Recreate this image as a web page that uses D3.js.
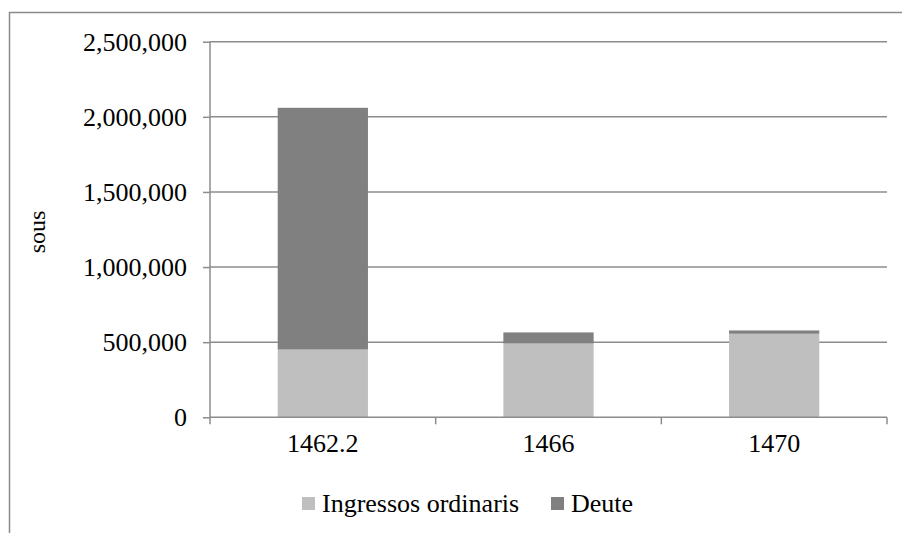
<!DOCTYPE html>
<html><head><meta charset="utf-8">
<script src="https://cdn.jsdelivr.net/npm/d3@7"></script>
<style>body{margin:0;background:#fff}svg{display:block}</style>
</head><body>
<script>
const categories = ["1462.2", "1466", "1470"];
const ingressos = [451000, 491000, 556000];
const deute = [1609000, 74000, 22000];
const seriesNames = ["Ingressos ordinaris", "Deute"];
const seriesColors = ["#bfbfbf", "#808080"];
const yTicks = [0, 500000, 1000000, 1500000, 2000000, 2500000];

(function () {
const W = 902, H = 533;
const font = "'Liberation Serif', 'Times New Roman', serif";
const svg = d3.select("body").append("svg").attr("width", W).attr("height", H)
  .style("font-family", font);

svg.append("rect").attr("x", 9.5).attr("y", 12.5).attr("width", 920).attr("height", 560)
  .attr("fill", "none").attr("stroke", "#8a8a8a").attr("stroke-width", 1.5);

const pLeft = 210, pRight = 887, pTop = 41.7, pBottom = 417.3;
const x = d3.scaleBand().domain(categories).range([pLeft, pRight]).paddingInner(0.6).paddingOuter(0.3);
const y = d3.scaleLinear().domain([0, 2500000]).range([pBottom, pTop]);

// gridlines
svg.append("g").selectAll("line").data(yTicks.slice(1)).join("line")
  .attr("x1", pLeft).attr("x2", pRight).attr("y1", d => y(d)).attr("y2", d => y(d))
  .attr("stroke", "#8c8c8c").attr("stroke-width", 1.5);

// bars
const data = categories.map((c, i) => ({cat: c, Ingressos: ingressos[i], Deute: deute[i]}));
const stack = d3.stack().keys(["Ingressos", "Deute"])(data);
svg.append("g").selectAll("g").data(stack).join("g")
  .attr("fill", (d, i) => seriesColors[i])
  .selectAll("rect").data(d => d).join("rect")
  .attr("x", d => x(d.data.cat)).attr("width", x.bandwidth())
  .attr("y", d => y(d[1])).attr("height", d => y(d[0]) - y(d[1]));

// y axis
const yAxis = svg.append("g").attr("transform", `translate(${pLeft},0)`)
  .call(d3.axisLeft(y).tickValues(yTicks).tickSize(7).tickPadding(16).tickFormat(d3.format(",")));
yAxis.select(".domain").attr("stroke", "#8c8c8c").attr("stroke-width", 1.5).attr("d", `M0,${pTop}V${pBottom}`);
yAxis.selectAll(".tick line").attr("stroke", "#8c8c8c").attr("stroke-width", 1.5);
yAxis.selectAll("text").attr("font-family", font).attr("font-size", 26).attr("fill", "#000");

// x axis
const xAxis = svg.append("g").attr("transform", `translate(0,${pBottom})`)
  .call(d3.axisBottom(x).tickSize(0).tickPadding(16));
xAxis.select(".domain").attr("stroke", "#8c8c8c").attr("stroke-width", 1.5).attr("d", `M${pLeft},0H${pRight}`);
xAxis.selectAll("text").attr("font-family", font).attr("font-size", 26).attr("fill", "#000");
const bounds = [pLeft].concat(categories.map(c => x(c) + x.bandwidth() / 2 + x.step() / 2));
xAxis.append("g").selectAll("line").data(bounds).join("line")
  .attr("x1", d => d).attr("x2", d => d).attr("y1", 0).attr("y2", 7)
  .attr("stroke", "#8c8c8c").attr("stroke-width", 1.5);

// y label
svg.append("text").attr("transform", "translate(45,232) rotate(-90)")
  .attr("text-anchor", "middle").attr("font-family", font).attr("font-size", 24).text("sous");

// legend
const leg = svg.append("g").attr("font-family", font);
const legX = [302, 551];
seriesNames.forEach((n, i) => {
  leg.append("rect").attr("x", legX[i]).attr("y", 497).attr("width", 13).attr("height", 13).attr("fill", seriesColors[i]);
  leg.append("text").attr("x", legX[i] + 20).attr("y", 512).attr("font-family", font).attr("font-size", 26).attr("fill", "#000").text(n);
});
})();
</script>
</body></html>
